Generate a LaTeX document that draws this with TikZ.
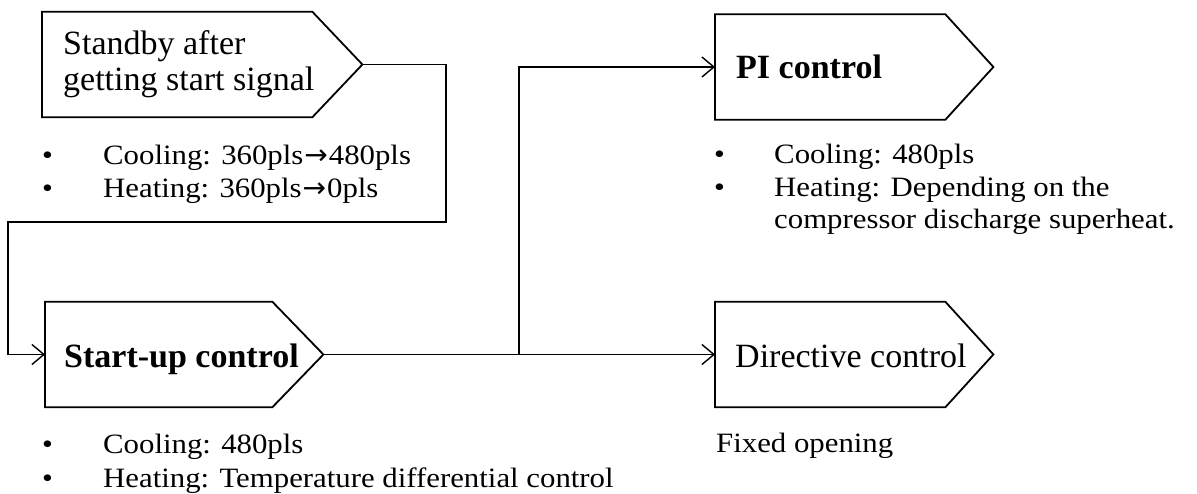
\documentclass[tikz,border=0pt]{standalone}
\usepackage{fontspec}
\setmainfont[FakeStretch=1.1]{Liberation Serif}
\newfontfamily\boxfont{Liberation Serif}
\newfontfamily\arrowfont{DejaVu Sans}
\newcommand{\myarrow}{\kern1pt{\arrowfont\fontsize{28}{30}\selectfont →}\kern1pt}
\usetikzlibrary{arrows.meta,calc}
\begin{document}
\begin{tikzpicture}[x=1pt,y=-1pt,
  boxtext/.style={font=\boxfont\fontsize{34}{36}\selectfont, inner sep=0pt, anchor=base west, align=left},
  bultext/.style={font=\fontsize{28}{32}\selectfont, inner sep=0pt, anchor=base west},
  shapebox/.style={draw=none, inner sep=0pt, minimum height=105pt, anchor=west},
  outline/.style={line width=1.8pt, line join=miter},
  conn/.style={line width=1.6pt},
  arr/.style={conn, -{Straight Barb[length=12pt,width=20pt,line width=1.4pt]}}
  ]
\useasboundingbox (0,0) rectangle (1197,494);

% ---- boxes
\node[shapebox, minimum width=270pt] (sb) at (42,64.5) {};
\coordinate (sb-tip) at ($(sb.east)+(50,0)$);
\node[shapebox, minimum width=227pt] (su) at (45,354.5) {};
\coordinate (su-tip) at ($(su.east)+(51,0)$);
\node[shapebox, minimum width=230pt] (pi) at (715,67) {};
\coordinate (pi-tip) at ($(pi.east)+(48,0)$);
\node[shapebox, minimum width=230pt] (dc) at (715,354.5) {};
\coordinate (dc-tip) at ($(dc.east)+(48,0)$);

\foreach \n in {sb,su,pi,dc}{
  \draw[outline] (\n.north west) -- (\n.north east) -- (\n-tip) -- (\n.south east) -- (\n.south west) -- cycle;
}

% ---- box texts
\node[boxtext] (sbt1) at (63,55) {Standby after};
\node[boxtext] (sbt2) at (63,91) {getting start signal};
\node[boxtext, font=\boxfont\fontsize{34}{36}\selectfont\bfseries] (sut) at (64,367) {Start-up control};
\node[boxtext, font=\boxfont\fontsize{34}{36}\selectfont\bfseries] (pit) at (736,79) {PI control};
\node[boxtext] (dct) at (735,367) {Directive control};

% ---- bullet texts
\node[bultext] (b1) at (42,165) {•};
\node[bultext] (t1) at (103,165) {Cooling: 360pls\myarrow480pls};
\node[bultext] (b2) at (42,198) {•};
\node[bultext] (t2) at (103,198) {Heating: 360pls\myarrow0pls};

\node[bultext] (b3) at (714,164) {•};
\node[bultext] (t3) at (774,164) {Cooling: 480pls};
\node[bultext] (b4) at (714,197) {•};
\node[bultext] (t4) at (774,197) {Heating: Depending on the};
\node[bultext] (t5) at (774,229) {compressor discharge superheat.};

\node[bultext] (b5) at (42,453) {•};
\node[bultext] (t6) at (103,453) {Cooling: 480pls};
\node[bultext] (b6) at (42,487) {•};
\node[bultext] (t7) at (103,487) {Heating: Temperature differential control};

\node[bultext] (t8) at (716,452) {Fixed opening};

% ---- connectors
\coordinate (r1) at (446,222);
\coordinate (l1) at (8,222);
\coordinate (j) at (519,354.5);
\draw[arr] (sb-tip) -| (r1) -- (l1) |- (su.west);
\draw[arr] (su-tip) -- (dc.west);
\draw[arr] (j) |- (pi.west);
\end{tikzpicture}
\end{document}
